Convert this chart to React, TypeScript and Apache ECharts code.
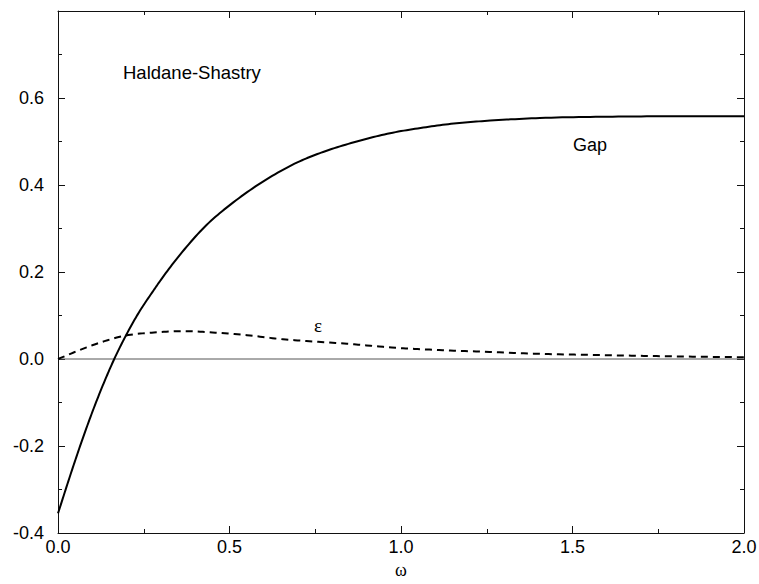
import React, { useEffect, useRef } from "react";
import * as echarts from "echarts";

// Gap(ω) curve
const gapOmega = [0, 0.033, 0.064, 0.101, 0.14, 0.164, 0.198, 0.232, 0.278, 0.3, 0.356, 0.433, 0.511, 0.608, 0.706, 0.773, 0.871, 0.968, 1.065, 1.162, 1.26, 1.405, 1.6, 1.8, 2.0];
const gapValues = [-0.355, -0.274, -0.201, -0.12, -0.043, 0, 0.054, 0.102, 0.157, 0.182, 0.24, 0.308, 0.36, 0.413, 0.455, 0.476, 0.5, 0.519, 0.532, 0.542, 0.548, 0.554, 0.557, 0.558, 0.558];

// ε(ω) curve
const epsOmega = [0, 0.091, 0.198, 0.28, 0.365, 0.45, 0.56, 0.647, 0.75, 0.851, 0.997, 1.1, 1.23, 1.4, 1.58, 1.8, 2.0];
const epsValues = [0, 0.029, 0.054, 0.061, 0.064, 0.061, 0.054, 0.046, 0.04, 0.0345, 0.025, 0.021, 0.017, 0.012, 0.009, 0.006, 0.004];

// Axis ranges
const xRange = [0, 2];
const yRange = [-0.4, 0.8];
const xStep = 0.5;
const yStep = 0.2;

const FONT = "'Liberation Sans', Arial, Helvetica, sans-serif";
const SERIF = "'Liberation Serif', 'Times New Roman', serif";
const AXIS_COLOR = "#111";

// Cubic Hermite spline through the given points (non-uniform spacing),
// sampled for drawing a smooth stroke.
function hermite(xs: number[], ys: number[], steps = 12): number[][] {
  const n = xs.length;
  const d: number[] = [];
  for (let i = 0; i < n - 1; i++) d.push((ys[i + 1] - ys[i]) / (xs[i + 1] - xs[i]));
  const m: number[] = [];
  for (let i = 0; i < n; i++) {
    if (i === 0) m.push(d[0]);
    else if (i === n - 1) m.push(d[n - 2]);
    else {
      const h0 = xs[i] - xs[i - 1];
      const h1 = xs[i + 1] - xs[i];
      m.push((h1 * d[i - 1] + h0 * d[i]) / (h0 + h1));
    }
  }
  const out: number[][] = [[xs[0], ys[0]]];
  for (let i = 0; i < n - 1; i++) {
    const h = xs[i + 1] - xs[i];
    for (let s = 1; s <= steps; s++) {
      const t = s / steps;
      const t2 = t * t;
      const t3 = t2 * t;
      const y =
        (2 * t3 - 3 * t2 + 1) * ys[i] +
        (t3 - 2 * t2 + t) * h * m[i] +
        (-2 * t3 + 3 * t2) * ys[i + 1] +
        (t3 - t2) * h * m[i + 1];
      out.push([xs[i] + t * h, y]);
    }
  }
  return out;
}

function curveSeries(xs: number[], ys: number[], lineDash: number[] | null) {
  return {
    type: "custom",
    coordinateSystem: "cartesian2d",
    data: [[xs[0], ys[0]]],
    z: 3,
    silent: true,
    renderItem: (_params: any, api: any) => {
      const pts = hermite(xs, ys).map((p) => api.coord(p));
      return {
        type: "polyline",
        shape: { points: pts },
        style: {
          stroke: "#000",
          lineWidth: 2,
          fill: "none",
          lineDash: lineDash || undefined,
          lineJoin: "round",
        },
      };
    },
  };
}

export default function App() {
  const ref = useRef<HTMLDivElement>(null);

  useEffect(() => {
    if (!ref.current) return;
    const chart = echarts.init(ref.current, undefined, { renderer: "svg" });

    const axisCommon = {
      type: "value" as const,
      axisLine: { show: true, onZero: false, lineStyle: { color: AXIS_COLOR, width: 1 } },
      axisTick: { show: true, inside: true, length: 7, lineStyle: { color: AXIS_COLOR, width: 1 } },
      minorTick: { show: true, splitNumber: 2, length: 4, lineStyle: { color: AXIS_COLOR, width: 1 } },
      splitLine: { show: false },
      minorSplitLine: { show: false },
    };

    chart.setOption({
      animation: false,
      backgroundColor: "#fff",
      grid: { left: 58, right: 15, top: 11, bottom: 51, containLabel: false, outerBoundsMode: "none" },
      xAxis: [
        {
          ...axisCommon,
          position: "bottom",
          min: xRange[0],
          max: xRange[1],
          interval: xStep,
          axisLabel: {
            show: true,
            margin: 5,
            fontSize: 18,
            fontFamily: FONT,
            color: "#000",
            formatter: (v: number) => v.toFixed(1),
          },
          name: "ω",
          nameLocation: "middle",
          nameGap: 23,
          nameTextStyle: { fontSize: 18, fontFamily: SERIF, color: "#000" },
        },
        {
          ...axisCommon,
          position: "top",
          min: xRange[0],
          max: xRange[1],
          interval: xStep,
          axisLabel: { show: false },
        },
      ],
      yAxis: [
        {
          ...axisCommon,
          position: "left",
          min: yRange[0],
          max: yRange[1],
          interval: yStep,
          axisLabel: {
            show: true,
            margin: 14,
            fontSize: 18,
            fontFamily: FONT,
            color: "#000",
            formatter: (v: number) => (v > 0.75 ? "" : v.toFixed(1)),
          },
        },
        {
          ...axisCommon,
          position: "right",
          min: yRange[0],
          max: yRange[1],
          interval: yStep,
          axisLabel: { show: false },
        },
      ],
      series: [
        // zero reference line
        {
          type: "line",
          data: [
            [xRange[0], 0],
            [xRange[1], 0],
          ],
          showSymbol: false,
          silent: true,
          lineStyle: { color: "#555", width: 1 },
          z: 2,
        },
        curveSeries(gapOmega, gapValues, null),
        curveSeries(epsOmega, epsValues, [7, 5]),
      ],
      graphic: [
        {
          type: "text",
          left: 123,
          top: 63,
          style: { text: "Haldane-Shastry", fontSize: 18.5, fontFamily: FONT, fill: "#000" },
        },
        {
          type: "text",
          left: 573,
          top: 136,
          style: { text: "Gap", fontSize: 18, fontFamily: FONT, fill: "#000" },
        },
        {
          type: "text",
          left: 314,
          top: 316,
          style: { text: "ε", fontSize: 19, fontFamily: SERIF, fill: "#000" },
        },
      ],
    });

    return () => chart.dispose();
  }, []);

  return <div ref={ref} style={{ width: 759, height: 584, position: "absolute", left: 0, top: 0 }} />;
}
